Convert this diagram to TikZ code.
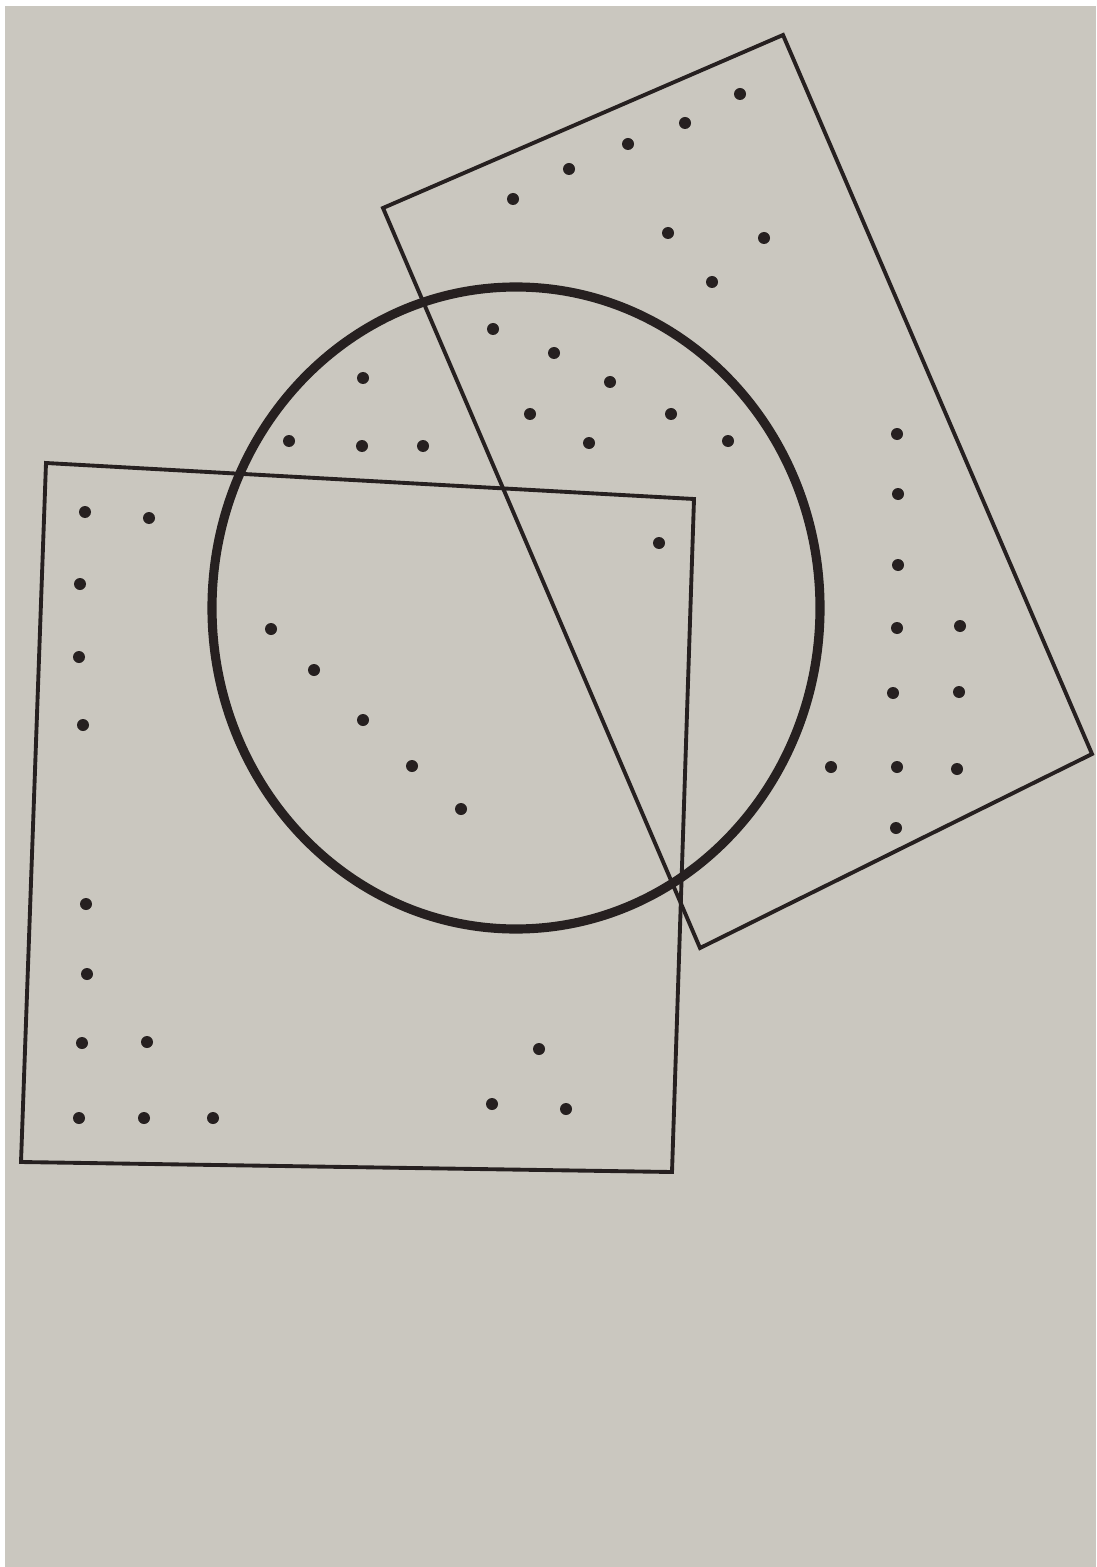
\documentclass[tikz,border=0pt]{standalone}
\usepackage{tikz}
\usetikzlibrary{calc}
\definecolor{paper}{RGB}{202,199,191}
\definecolor{ink}{RGB}{38,32,32}

\begin{document}
\begin{tikzpicture}[x=0.01cm,y=-0.01cm,
    frame/.style={draw=ink,line width=1.1pt,line join=miter},
    ring/.style={draw=ink,line width=2.6pt},
    spot/.style={fill=ink}]
  % page: thin white edge, then the grey paper
  \fill[white] (0,0) rectangle (1096,1567);
  \fill[paper] (5,6) rectangle (1096,1567);
  \useasboundingbox (0,0) rectangle (1096,1567);
  % Left square
  \coordinate (sqA) at (46,463);
  \coordinate (sqB) at (694,499);
  \coordinate (sqC) at (672,1172);
  \coordinate (sqD) at (21,1162);
  \draw[frame] (sqA) -- (sqB) -- (sqC) -- (sqD) -- cycle;
  % Tilted rectangle
  \coordinate (reA) at (383,208);
  \coordinate (reB) at (783,35);
  \coordinate (reC) at (1092,754);
  \coordinate (reD) at (700,948);
  \draw[frame] (reA) -- (reB) -- (reC) -- (reD) -- cycle;
  % Circle, drawn heavy
  \coordinate (ctr) at (516,608);
  \draw[ring] (ctr) ellipse [x radius=304, y radius=321];
  % Points in the rectangle only
  \foreach \p in {(740,94),(685,123),(628,144),(569,169),(513,199),
                  (668,233),(764,238),(712,282),
                  (897,434),(898,494),(898,565),(897,628),(960,626),
                  (893,693),(959,692),(831,767),(897,767),(957,769),(896,828)}
    \fill[spot] \p circle (6);
  % Points in circle and rectangle
  \foreach \p in {(493,329),(554,353),(610,382),(530,414),(671,414),
                  (589,443),(728,441)}
    \fill[spot] \p circle (6);
  % Points in the circle only
  \foreach \p in {(363,378),(289,441),(362,446),(423,446)}
    \fill[spot] \p circle (6);
  % Point in all three
  \fill[spot] (659,543) circle (6);
  % Points in square and circle
  \foreach \p in {(271,629),(314,670),(363,720),(412,766),(461,809)}
    \fill[spot] \p circle (6);
  % Points in the square only
  \foreach \p in {(85,512),(149,518),(80,584),(79,657),(83,725),
                  (86,904),(87,974),(82,1043),(147,1042),
                  (79,1118),(144,1118),(213,1118),
                  (539,1049),(492,1104),(566,1109)}
    \fill[spot] \p circle (6);
\end{tikzpicture}
\end{document}
